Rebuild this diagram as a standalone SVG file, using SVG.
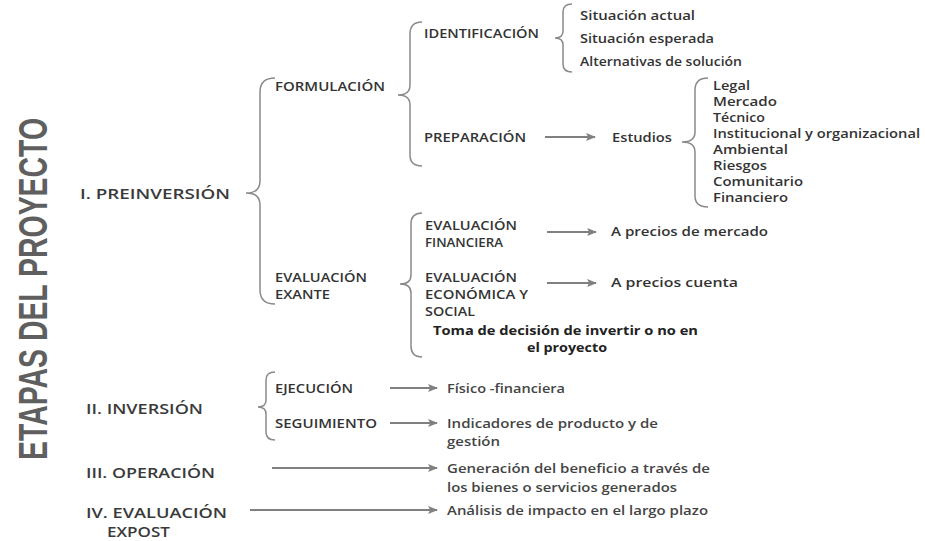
<svg xmlns="http://www.w3.org/2000/svg" width="925" height="541" viewBox="0 0 925 541">
<style>
text{font-family:"Open Sans","Liberation Sans",sans-serif;fill:#333;dominant-baseline:central}
.lab{font-size:12.5px;font-weight:600}
.it{font-size:12.5px;font-weight:600}
.ds{font-size:12.5px;font-weight:600;fill:#444}
.st{font-size:15px;font-weight:600;fill:#3a3a3a}
.st2{font-size:14px;font-weight:600;fill:#3a3a3a}
.tb{font-size:13px;font-weight:700;fill:#222}
.vt{font-family:"Liberation Sans","DejaVu Sans",sans-serif;font-size:40px;font-weight:700;fill:#5f5f5f;dominant-baseline:alphabetic}
.br{fill:none;stroke:#8a8a8a;stroke-width:1.5}
.ar{fill:none;stroke:#808080;stroke-width:2.2;marker-end:url(#ah)}
</style>
<defs>
<marker id="ah" viewBox="0 0 10 10" refX="9" refY="5" markerWidth="4.5" markerHeight="4.5" orient="auto" markerUnits="strokeWidth">
<path d="M0,1 L10,5 L0,9 L2,5 Z" fill="#808080"/>
</marker>
</defs>
<rect width="925" height="541" fill="#fff"/>

<g id="title">
<text class="vt" x="47" y="460" transform="rotate(-90 47 460)" textLength="342" lengthAdjust="spacingAndGlyphs">ETAPAS DEL PROYECTO</text>
</g>

<g id="braces">
<path class="br" d="M275,78 Q260,78 260,92 L260,181 Q260,193 246,193 Q260,193 260,205 L260,290 Q260,304 275,304"/>
<path class="br" d="M422,22 Q410,22 410,34 L410,85 Q410,95 398,95 Q410,95 410,105 L410,155 Q410,166 422,166"/>
<path class="br" d="M572,4 Q563,4 563,12 L563,31 Q563,38 555,38 Q563,38 563,45 L563,64 Q563,72 572,72"/>
<path class="br" d="M708,78 Q695,78 695,90 L695,132 Q695,142 682,142 Q695,142 695,152 L695,196 Q695,207 708,207"/>
<path class="br" d="M422,213 Q411,213 411,224 L411,275 Q411,284 400,284 Q411,284 411,293 L411,346 Q411,357 422,357"/>
<path class="br" d="M275,372 Q266,372 266,380 L266,400 Q266,407 258,407 Q266,407 266,414 L266,432 Q266,440 275,440"/>
</g>

<g id="connectors">
<line class="ar" x1="545" y1="137" x2="595" y2="137"/>
<line class="ar" x1="547" y1="232" x2="596" y2="232"/>
<line class="ar" x1="547" y1="283" x2="596" y2="283"/>
<line class="ar" x1="390" y1="388" x2="437" y2="388"/>
<line class="ar" x1="390" y1="423" x2="437" y2="423"/>
<line class="ar" x1="272" y1="468" x2="437" y2="468"/>
<line class="ar" x1="250" y1="510" x2="437" y2="510"/>
</g>

<g id="preinversion"><text class="st" x="80" y="193" textLength="150" lengthAdjust="spacingAndGlyphs">I. PREINVERSIÓN</text></g>
<g id="formulacion"><text class="lab" x="275" y="86" textLength="110" lengthAdjust="spacingAndGlyphs">FORMULACIÓN</text></g>
<g id="identificacion"><text class="lab" x="424" y="33" textLength="115" lengthAdjust="spacingAndGlyphs">IDENTIFICACIÓN</text></g>
<g id="ident-items">
<text class="it" x="580" y="15" textLength="115" lengthAdjust="spacingAndGlyphs">Situación actual</text>
<text class="it" x="580" y="38" textLength="134" lengthAdjust="spacingAndGlyphs">Situación esperada</text>
<text class="it" x="580" y="61" textLength="162" lengthAdjust="spacingAndGlyphs">Alternativas de solución</text>
</g>
<g id="preparacion"><text class="lab" x="424" y="137" textLength="102" lengthAdjust="spacingAndGlyphs">PREPARACIÓN</text></g>
<g id="estudios"><text class="it" x="612" y="137" textLength="60" lengthAdjust="spacingAndGlyphs">Estudios</text></g>
<g id="estudios-items">
<text class="it" x="713" y="85" textLength="37" lengthAdjust="spacingAndGlyphs">Legal</text>
<text class="it" x="713" y="101" textLength="64" lengthAdjust="spacingAndGlyphs">Mercado</text>
<text class="it" x="713" y="117" textLength="52" lengthAdjust="spacingAndGlyphs">Técnico</text>
<text class="it" x="713" y="133" textLength="207" lengthAdjust="spacingAndGlyphs">Institucional y organizacional</text>
<text class="it" x="713" y="149" textLength="75" lengthAdjust="spacingAndGlyphs">Ambiental</text>
<text class="it" x="713" y="165" textLength="54" lengthAdjust="spacingAndGlyphs">Riesgos</text>
<text class="it" x="713" y="181" textLength="90" lengthAdjust="spacingAndGlyphs">Comunitario</text>
<text class="it" x="713" y="197" textLength="75" lengthAdjust="spacingAndGlyphs">Financiero</text>
</g>
<g id="eval-exante">
<text class="lab" x="275" y="277" textLength="92" lengthAdjust="spacingAndGlyphs">EVALUACIÓN</text>
<text class="lab" x="275" y="294" textLength="55" lengthAdjust="spacingAndGlyphs">EXANTE</text>
</g>
<g id="eval-financiera">
<text class="lab" x="425" y="225" textLength="92" lengthAdjust="spacingAndGlyphs">EVALUACIÓN</text>
<text class="lab" x="425" y="242" textLength="78" lengthAdjust="spacingAndGlyphs">FINANCIERA</text>
</g>
<g id="precios-mercado"><text class="it" x="611" y="231" textLength="157" lengthAdjust="spacingAndGlyphs">A precios de mercado</text></g>
<g id="eval-economica">
<text class="lab" x="425" y="277" textLength="92" lengthAdjust="spacingAndGlyphs">EVALUACIÓN</text>
<text class="lab" x="425" y="294" textLength="103" lengthAdjust="spacingAndGlyphs">ECONÓMICA Y</text>
<text class="lab" x="425" y="311" textLength="50" lengthAdjust="spacingAndGlyphs">SOCIAL</text>
</g>
<g id="precios-cuenta"><text class="it" x="611" y="282" textLength="127" lengthAdjust="spacingAndGlyphs">A precios cuenta</text></g>
<g id="decision">
<text class="tb" x="433" y="330" textLength="265" lengthAdjust="spacingAndGlyphs">Toma de decisión de invertir o no en</text>
<text class="tb" x="527" y="347" textLength="80" lengthAdjust="spacingAndGlyphs">el proyecto</text>
</g>

<g id="inversion"><text class="st" x="86" y="408" textLength="117" lengthAdjust="spacingAndGlyphs">II. INVERSIÓN</text></g>
<g id="ejecucion"><text class="lab" x="275" y="388" textLength="78" lengthAdjust="spacingAndGlyphs">EJECUCIÓN</text></g>
<g id="seguimiento"><text class="lab" x="275" y="423" textLength="102" lengthAdjust="spacingAndGlyphs">SEGUIMIENTO</text></g>
<g id="fisico"><text class="ds" x="447" y="388" textLength="118" lengthAdjust="spacingAndGlyphs">Físico -financiera</text></g>
<g id="indicadores">
<text class="ds" x="447" y="423" textLength="211" lengthAdjust="spacingAndGlyphs">Indicadores de producto y de</text>
<text class="ds" x="447" y="441" textLength="53" lengthAdjust="spacingAndGlyphs">gestión</text>
</g>
<g id="operacion"><text class="st" x="86" y="472" textLength="129" lengthAdjust="spacingAndGlyphs">III. OPERACIÓN</text></g>
<g id="generacion">
<text class="ds" x="447" y="468" textLength="263" lengthAdjust="spacingAndGlyphs">Generación del beneficio a través de</text>
<text class="ds" x="447" y="487" textLength="230" lengthAdjust="spacingAndGlyphs">los bienes o servicios generados</text>
</g>
<g id="expost">
<text class="st2" x="86" y="512" textLength="141" lengthAdjust="spacingAndGlyphs">IV. EVALUACIÓN</text>
<text class="st2" x="107" y="531" textLength="63" lengthAdjust="spacingAndGlyphs">EXPOST</text>
</g>
<g id="analisis"><text class="ds" x="447" y="510" textLength="261" lengthAdjust="spacingAndGlyphs">Análisis de impacto en el largo plazo</text></g>
</svg>
